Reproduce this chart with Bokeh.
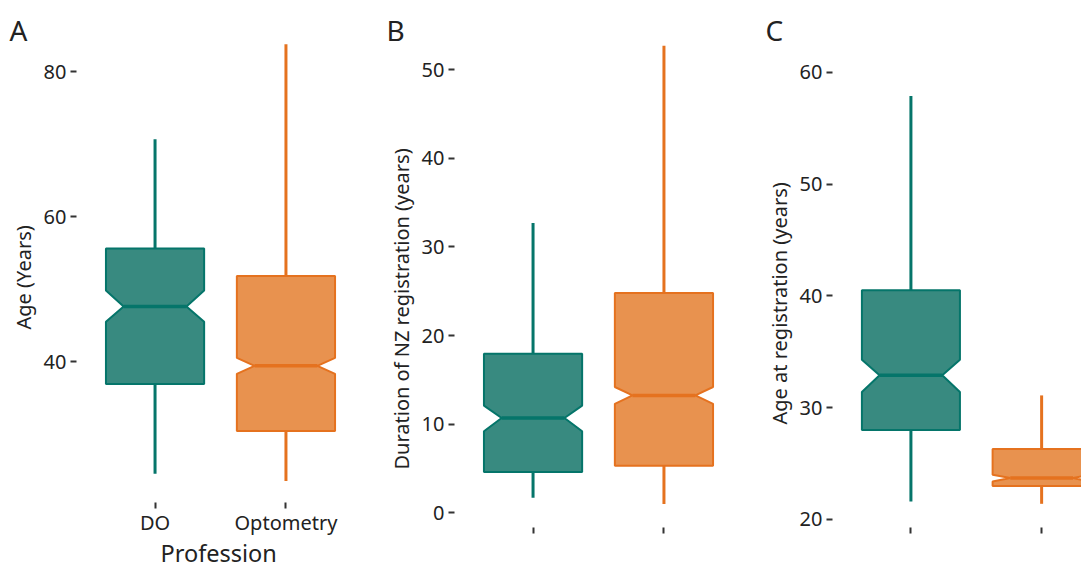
from bokeh.plotting import figure
from bokeh.models import FixedTicker, Range1d, Title
from bokeh.layouts import row, column
from bokeh.embed import file_html
from bokeh.resources import INLINE
from bokeh.core.properties import value

# ---------------- data ----------------
categories = ["DO", "Optometry"]
positions = [1, 2]
panel_letters = ["A", "B", "C"]
x_title = "Profession"

# Panel A: Age (Years)
age_lo = [24.5, 23.5]
age_q1 = [36.9, 30.4]
age_med = [47.6, 39.4]
age_q3 = [55.6, 51.8]
age_hi = [70.7, 83.8]
age_notch_lo = [45.5, 38.3]
age_notch_hi = [49.8, 40.5]
age_ticks = [40, 60, 80]

# Panel B: Duration of NZ registration (years)
dur_lo = [1.7, 1.0]
dur_q1 = [4.6, 5.3]
dur_med = [10.7, 13.25]
dur_q3 = [17.95, 24.8]
dur_hi = [32.7, 52.7]
dur_notch_lo = [9.2, 12.3]
dur_notch_hi = [12.1, 14.2]
dur_ticks = [0, 10, 20, 30, 40, 50]

# Panel C: Age at registration (years)
reg_lo = [21.6, 21.4]
reg_q1 = [28.0, 23.0]
reg_med = [32.9, 23.7]
reg_q3 = [40.5, 26.3]
reg_hi = [57.9, 31.1]
reg_notch_lo = [31.4, 23.4]
reg_notch_hi = [34.3, 24.0]
reg_ticks = [20, 30, 40, 50, 60]

# ---------------- style ----------------
LINE_COLORS = ["#05756A", "#E5721F"]
FILL_COLORS = ["#388A80", "#E8924F"]
TEXT = "#222222"
FONT = "Noto Sans"
BOX_HALF = 0.375
NOTCH_HALF = 0.24
HEADER_H = 42
FOOTER_H = 22


def bare(width, height, x0=0, x1=None):
    f = figure(width=width, height=height,
               x_range=Range1d(x0, width if x1 is None else x1), y_range=Range1d(0, height),
               x_axis_type=None, y_axis_type=None, output_backend="svg", toolbar_location=None,
               min_border=0)
    f.outline_line_color = None
    f.xgrid.visible = False
    f.ygrid.visible = False
    return f


def make_panel(ylabel, ylabel_offset, lo, q1, med, q3, hi, nlo, nhi, yrange, yticks,
               xend, width, height, b_left, b_right, b_bottom, xlabels):
    p = figure(width=width, height=height,
               x_range=Range1d(0.4, xend), y_range=Range1d(*yrange),
               output_backend="svg", toolbar_location=None,
               min_border_left=b_left, min_border_right=b_right,
               min_border_top=0, min_border_bottom=b_bottom)
    p.xgrid.visible = False
    p.ygrid.visible = False
    p.outline_line_color = None

    # whiskers
    p.segment(x0=positions, y0=q3, x1=positions, y1=hi, line_color=LINE_COLORS, line_width=3)
    p.segment(x0=positions, y0=q1, x1=positions, y1=lo, line_color=LINE_COLORS, line_width=3)

    # notched boxes
    xs, ys = [], []
    for i, x in enumerate(positions):
        xs.append([x - BOX_HALF, x - BOX_HALF, x - NOTCH_HALF, x - BOX_HALF, x - BOX_HALF,
                   x + BOX_HALF, x + BOX_HALF, x + NOTCH_HALF, x + BOX_HALF, x + BOX_HALF])
        ys.append([q3[i], nhi[i], med[i], nlo[i], q1[i], q1[i], nlo[i], med[i], nhi[i], q3[i]])
    p.patches(xs, ys, fill_color=FILL_COLORS, line_color=LINE_COLORS, line_width=2)

    # medians
    p.segment(x0=[x - NOTCH_HALF for x in positions], y0=med,
              x1=[x + NOTCH_HALF for x in positions], y1=med,
              line_color=LINE_COLORS, line_width=3.5)

    # x axis
    xa = p.xaxis[0]
    xa.ticker = FixedTicker(ticks=positions)
    xa.axis_line_color = None
    xa.major_tick_in = 0
    xa.major_tick_out = 6
    xa.major_tick_line_width = 2
    xa.major_tick_line_color = "#333333"
    xa.minor_tick_line_color = None
    xa.major_label_standoff = 0
    if xlabels:
        xa.major_label_overrides = dict(zip(positions, categories))
        xa.major_label_text_font = FONT
        xa.major_label_text_font_size = "20px"
        xa.major_label_text_color = TEXT
    else:
        xa.major_label_overrides = {1: "", 2: ""}
        xa.major_label_text_font_size = "0px"

    # y axis
    ya = p.yaxis[0]
    ya.ticker = FixedTicker(ticks=yticks)
    ya.axis_line_color = None
    ya.major_tick_in = 0
    ya.major_tick_out = 6
    ya.major_tick_line_width = 2
    ya.major_tick_line_color = "#333333"
    ya.minor_tick_line_color = None
    ya.major_label_text_font = FONT
    ya.major_label_text_font_size = "20px"
    ya.major_label_text_color = TEXT
    ya.major_label_standoff = 4

    # y-axis title, positioned from the bottom of the plot frame
    p.add_layout(Title(text=ylabel, align="left", offset=ylabel_offset, standoff=8,
                       text_font=FONT, text_font_size="20px", text_font_style="normal",
                       text_color=TEXT), "left")
    return p


# header with the panel letters
header = bare(1081, HEADER_H)
header.text(x=[9, 386, 765], y=[13, 13, 13], text=panel_letters, text_font=value(FONT),
            text_font_size="28px", text_color=TEXT, text_baseline="middle", text_align="left")

main_h = 563 - HEADER_H

pA = make_panel("Age (Years)", 173, age_lo, age_q1, age_med, age_q3, age_hi,
                age_notch_lo, age_notch_hi, (20.53, 84.05), age_ticks,
                2.6, 378, main_h - FOOTER_H, 76, 14, 39, True)

# footer frame is aligned with panel A's frame (x 76..364 on the page)
footer = bare(378, FOOTER_H, 76, 364)
footer.text(x=[160], y=[11], text=[x_title], text_font=value(FONT), text_font_size="23.5px",
            text_color=TEXT, text_baseline="middle", text_align="left")

pB = make_panel("Duration of NZ registration (years)", 58, dur_lo, dur_q1, dur_med, dur_q3,
                dur_hi, dur_notch_lo, dur_notch_hi, (-1.66, 53.08), dur_ticks,
                2.6, 378, main_h, 76, 14, 36, False)

pC = make_panel("Age at registration (years)", 103, reg_lo, reg_q1, reg_med, reg_q3, reg_hi,
                reg_notch_lo, reg_notch_hi, (19.28, 62.68), reg_ticks,
                0.4 + 249 / 130.7, 325, main_h, 76, 0, 36, False)

layout = column(header, row(column(pA, footer), pB, pC))
open("out.html", "w").write(file_html(layout, INLINE))
